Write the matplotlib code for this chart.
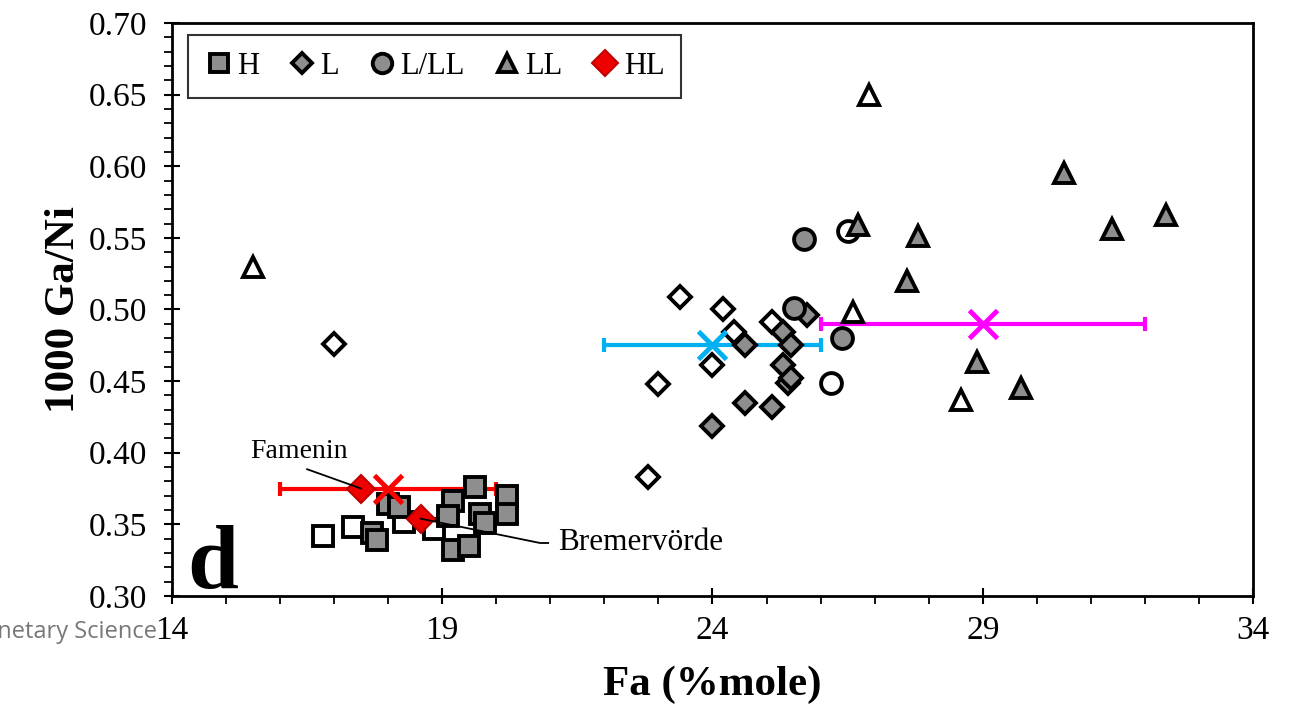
import matplotlib
matplotlib.use('Agg')
import matplotlib.pyplot as plt
from matplotlib.lines import Line2D
from matplotlib.ticker import MultipleLocator, FixedLocator, FormatStrFormatter

plt.rcParams['font.family'] = ['Liberation Serif', 'DejaVu Serif']

# H chondrites (open = unfilled symbol, fill = grey symbol)
h_fa_open = [16.8, 17.35, 18.3, 18.85]
h_ga_open = [0.342, 0.348, 0.352, 0.347]
h_fa = [17.7, 17.8, 18.0, 18.2, 19.2, 19.1, 19.2, 19.5, 19.6, 19.7, 19.8, 20.2, 20.2]
h_ga = [0.344, 0.339, 0.364, 0.362, 0.366, 0.356, 0.332, 0.335, 0.376, 0.357, 0.351, 0.370, 0.357]

# L chondrites
l_fa_open = [17.0, 23.4, 24.2, 24.4, 25.1, 24.0, 23.0, 22.8]
l_ga_open = [0.476, 0.509, 0.500, 0.484, 0.491, 0.461, 0.448, 0.383]
l_fa = [24.6, 25.3, 25.45, 25.3, 25.4, 25.45, 25.75, 24.6, 25.1, 24.0]
l_ga = [0.475, 0.484, 0.475, 0.461, 0.449, 0.452, 0.496, 0.435, 0.432, 0.419]

# L/LL chondrites
lll_fa_open = [26.5, 26.2]
lll_ga_open = [0.555, 0.449]
lll_fa = [25.5, 25.7, 26.4]
lll_ga = [0.501, 0.549, 0.480]

# LL chondrites
ll_fa_open = [15.5, 26.9, 26.6, 28.6]
ll_ga_open = [0.530, 0.650, 0.498, 0.437]
ll_fa = [30.5, 32.4, 31.4, 26.7, 27.8, 27.6, 28.9, 29.7]
ll_ga = [0.595, 0.566, 0.556, 0.559, 0.551, 0.520, 0.463, 0.445]

# HL chondrites
hl_names = ['Famenin', 'Bremervörde']
hl_fa = [17.5, 18.6]
hl_ga = [0.375, 0.354]

# group means with Fa ranges
mean_fa = [18.0, 24.0, 29.0]
mean_ga = [0.375, 0.475, 0.490]
mean_err = [2.0, 2.0, 3.0]
mean_colors = ['#ff0000', '#00b0f0', '#ff00ff']

x_ticks = [14, 19, 24, 29, 34]

grey = '#8e8e8e'

fig = plt.figure(figsize=(13, 7.16), dpi=100)
ax = fig.add_axes([0.1323, 0.1676, 0.8315, 0.8003])

# ranges first so the symbols sit on top of them
for x, y, e, c in zip(mean_fa, mean_ga, mean_err, mean_colors):
    ax.errorbar(x, y, xerr=e, fmt='none', ecolor=c, elinewidth=3,
                capsize=5, capthick=3, zorder=1)

sym = dict(linestyle='none', markeredgecolor='black', markeredgewidth=2.8)
ax.plot(h_fa_open, h_ga_open, marker='s', ms=14, mfc='white', zorder=3, **sym)
ax.plot(h_fa, h_ga, marker='s', ms=14, mfc=grey, zorder=3, **sym)
ax.plot(l_fa_open, l_ga_open, marker='D', ms=11.5, mfc='white', zorder=3, **sym)
ax.plot(l_fa, l_ga, marker='D', ms=11.5, mfc=grey, zorder=3, **sym)
ax.plot(lll_fa_open, lll_ga_open, marker='o', ms=15, mfc='white', zorder=3, **sym)
ax.plot(lll_fa, lll_ga, marker='o', ms=15, mfc=grey, zorder=3, **sym)
ax.plot(ll_fa_open, ll_ga_open, marker='^', ms=14, mfc='white', zorder=3, **sym)
ax.plot(ll_fa, ll_ga, marker='^', ms=14, mfc=grey, zorder=3, **sym)

for x, y, c in zip(mean_fa, mean_ga, mean_colors):
    ax.plot(x, y, marker='x', ms=20, mew=3.5, color=c, linestyle='none', zorder=4)

ax.plot(hl_fa, hl_ga, marker='D', ms=14, mfc='#ee0000', mec='#c00000',
        mew=1.5, linestyle='none', zorder=5)

# labels for the two HL chondrites
ax.text(16.35, 0.401, hl_names[0], fontsize=20, ha='center', va='center', zorder=6)
ax.plot([16.5, hl_fa[0]], [0.3885, hl_ga[0]], color='black', lw=1.3, zorder=6)
ax.plot([hl_fa[1], 20.81, 20.96], [hl_ga[1], 0.337, 0.337],
        color='black', lw=1.3, zorder=6)
ax.text(21.14, 0.337, hl_names[1], fontsize=22.5, ha='left', va='center', zorder=6)

ax.text(14.28, 0.3056, 'd', fontsize=66, fontweight='bold', ha='left', va='baseline')

ax.set_xlim(14, 34)
ax.set_ylim(0.30, 0.70)
ax.xaxis.set_major_locator(FixedLocator(x_ticks))
ax.xaxis.set_minor_locator(MultipleLocator(1))
ax.yaxis.set_major_locator(MultipleLocator(0.05))
ax.yaxis.set_minor_locator(MultipleLocator(0.01))
ax.yaxis.set_major_formatter(FormatStrFormatter('%.2f'))
ax.tick_params(which='major', direction='inout', length=12, width=1.5,
               labelsize=24, top=False, right=False)
ax.tick_params(which='minor', direction='out', length=6, width=1.3,
               top=False, right=False)
ax.tick_params(axis='x', which='major', pad=8)
ax.tick_params(axis='y', which='major', pad=12)
for s in ax.spines.values():
    s.set_linewidth(2)

ax.set_xlabel('Fa (%mole)', fontsize=31, fontweight='bold', labelpad=14)
ax.set_ylabel('1000 Ga/Ni', fontsize=31, fontweight='bold', labelpad=4)

handles = [
    Line2D([], [], marker='s', ms=13, mfc=grey, **sym),
    Line2D([], [], marker='D', ms=10, mfc=grey, **sym),
    Line2D([], [], marker='o', ms=14, mfc=grey, **sym),
    Line2D([], [], marker='^', ms=13, mfc=grey, **sym),
    Line2D([], [], marker='D', ms=13, mfc='#ee0000', mec='#c00000', mew=1.5, linestyle='none'),
]
leg = ax.legend(handles, ['H', 'L', 'L/LL', 'LL', 'HL'], loc='upper left',
                bbox_to_anchor=(0.015, 0.979), borderaxespad=0, ncol=5, fontsize=22,
                handlelength=0.9, handletextpad=0.15, columnspacing=0.95,
                frameon=True, fancybox=False, borderpad=0.55)
leg.get_frame().set_edgecolor('black')
leg.get_frame().set_linewidth(1.5)

fig.text(157 / 1300, 1 - 632 / 716, 'Planetary Science', fontsize=17,
         family='Open Sans', color='#777777', ha='right', va='center')

fig.savefig('out.png', dpi=100)
